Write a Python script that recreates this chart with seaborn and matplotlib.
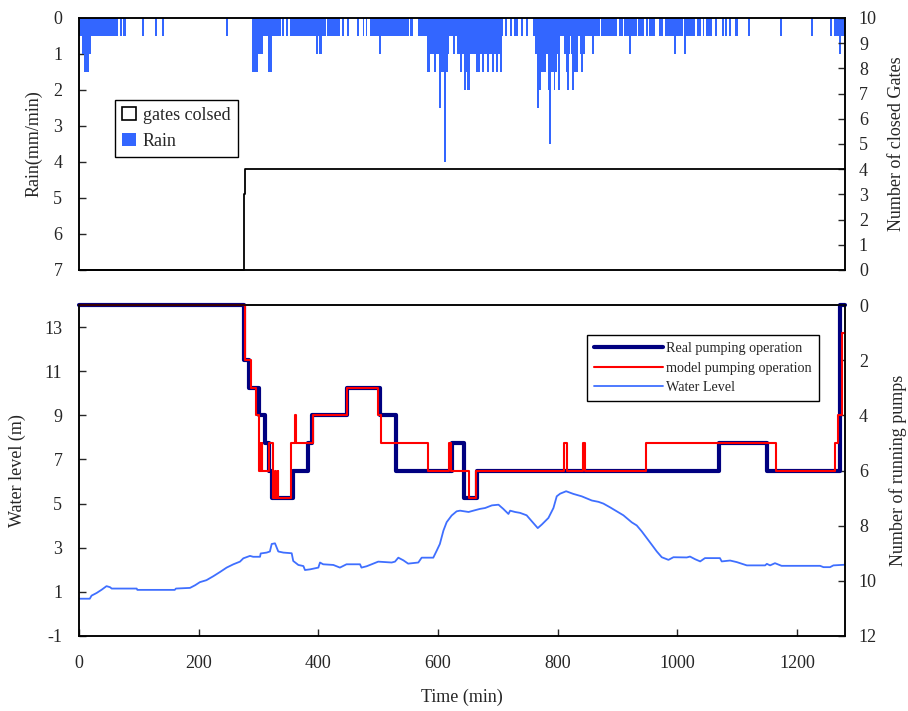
import numpy as np
import pandas as pd
import matplotlib
matplotlib.use("Agg")
import matplotlib.pyplot as plt
from matplotlib.patches import Patch
from matplotlib.lines import Line2D
import seaborn as sns

# ---------------- data ----------------
# rain events: start (min), end (min), intensity (mm/min)
rain_start = [0, 68.5, 74, 105, 127, 138, 245.5, 288.5, 340, 346, 352.5, 414, 439, 447, 465, 474, 479, 486, 553, 567,
              712, 720, 727, 739, 747, 759, 872, 902, 910, 934, 947, 953, 969, 979, 1011, 1033, 1042, 1048, 1063,
              1075, 1080, 1086, 1097, 1118, 1172, 1223, 1255, 1262,
              4.5, 288.5, 316, 396, 401.5, 501, 582, 624.5, 632, 762, 811, 822, 837, 858, 919, 994, 1011, 1270,
              8.5, 288.5, 316, 582, 593, 601.5, 636.5, 643, 663, 673, 681, 690, 696, 703, 766, 784, 813, 824, 839,
              643, 649, 766, 784, 793, 801, 816, 824,
              601.5, 766,
              786,
              610]
rain_end = [65, 71.5, 78, 108, 130, 141.5, 248.5, 337, 343, 350, 413, 436, 442, 451, 468, 477, 482, 551.5, 558, 708,
            715, 724, 734, 742, 750, 870, 899, 909, 932, 944, 950, 963, 976, 1009, 1030, 1039, 1045, 1058, 1066,
            1078, 1083, 1089, 1101, 1121, 1175, 1227, 1258, 1280,
            20, 307, 322, 399.5, 405.5, 505, 618, 628, 707, 804, 820, 834, 846, 861, 922, 997, 1015, 1273,
            16.5, 298.5, 322, 586.5, 596.5, 616.5, 640.5, 653, 670, 677, 685, 694, 700, 707, 781, 799, 818, 834, 842,
            647, 653, 772, 789, 796, 804, 819, 827,
            604.5, 769,
            789,
            613]
rain_mm = [0.5] * 48 + [1.0] * 18 + [1.5] * 19 + [2.0] * 8 + [2.5] * 2 + [3.5] + [4.0]

# number of closed gates
gate_time = [0, 275, 278, 1280]
gate_count = [0, 3, 4, 4]

# real pumping operation (number of running pumps)
real_time = [0, 275, 284, 301, 310, 318, 322, 358, 382, 390, 447, 503, 529, 624, 644, 665, 1069, 1150, 1271, 1280]
real_pumps = [0, 2, 3, 4, 5, 6, 7, 6, 5, 4, 3, 4, 6, 5, 7, 6, 5, 6, 0, 0]

# model pumping operation
model_time = [0, 277, 287, 296, 300, 302, 303, 305, 306, 318, 325, 328, 329, 332, 333, 355, 361, 362, 391, 447,
              499, 504, 584, 619, 622, 652, 664, 811, 816, 843, 845, 948, 1165, 1264, 1269, 1275, 1280]
model_pumps = [0, 2, 3, 4, 6, 5, 6, 5, 6, 5, 7, 6, 7, 6, 7, 5, 4, 5, 4, 3,
               4, 5, 6, 5, 6, 7, 6, 5, 6, 5, 6, 5, 6, 5, 4, 1, 1]

# water level (m)
wl_time = [0, 18, 21, 29.5, 38, 46, 52, 54.6, 96.4, 97.5,
           160, 162, 185.5, 194, 202, 213, 224.5, 235.6, 246.7, 258,
           269, 274.6, 285.7, 291, 302.5, 303.6, 313.6, 319, 322, 327.5,
           333, 341.5, 355.4, 358, 366.5, 375, 377.6, 386, 400, 402.7,
           408, 425, 436, 447, 469.6, 472, 480.6, 489, 500, 522.5,
           528, 533.6, 542, 550, 567, 572.6, 592, 597.6, 603, 609,
           614.4, 622.7, 631, 636.8, 651, 659, 670, 678.6, 690, 701,
           709, 717.6, 720.4, 728.7, 737, 748, 756.6, 766.6, 773.3, 784.4,
           792.8, 798.3, 804, 814, 826, 840, 857, 868, 876.3, 887.5,
           898.6, 909.7, 923.7, 932, 940.4, 948.7, 957, 965.5, 973.8, 985,
           993.3, 1015.6, 1021, 1029.5, 1038, 1046, 1071, 1074, 1088, 1099,
           1116, 1146.5, 1149.4, 1154.8, 1163, 1174, 1238.4, 1244, 1255, 1260.6,
           1280]
wl_level = [0.69, 0.69, 0.83, 0.95, 1.10, 1.26, 1.21, 1.15, 1.15, 1.09,
            1.09, 1.15, 1.18, 1.30, 1.44, 1.53, 1.71, 1.90, 2.10, 2.25,
            2.37, 2.52, 2.63, 2.59, 2.59, 2.74, 2.78, 2.83, 3.17, 3.20,
            2.83, 2.78, 2.75, 2.40, 2.22, 2.17, 1.99, 2.02, 2.10, 2.33,
            2.25, 2.22, 2.10, 2.25, 2.25, 2.10, 2.16, 2.25, 2.37, 2.33,
            2.37, 2.55, 2.43, 2.28, 2.33, 2.55, 2.55, 2.86, 3.17, 3.78,
            4.16, 4.46, 4.65, 4.68, 4.62, 4.68, 4.76, 4.80, 4.92, 4.95,
            4.76, 4.53, 4.68, 4.62, 4.58, 4.47, 4.20, 3.89, 4.05, 4.35,
            4.80, 5.33, 5.45, 5.56, 5.44, 5.33, 5.14, 5.08, 5.00, 4.83,
            4.65, 4.47, 4.15, 4.01, 3.74, 3.44, 3.14, 2.83, 2.57, 2.45,
            2.57, 2.56, 2.60, 2.48, 2.38, 2.53, 2.53, 2.38, 2.42, 2.35,
            2.20, 2.20, 2.27, 2.20, 2.30, 2.18, 2.18, 2.12, 2.12, 2.20,
            2.23]

# ---------------- style ----------------
sns.set_style("ticks")
plt.rcParams['font.family'] = ['Liberation Serif', 'DejaVu Serif']
plt.rcParams['axes.unicode_minus'] = False
plt.rcParams['xtick.direction'] = 'in'
plt.rcParams['ytick.direction'] = 'in'
plt.rcParams['axes.linewidth'] = 1.1
plt.rcParams['axes.edgecolor'] = 'black'

RAIN_C = '#3366FF'
WL_C = '#3F6FFF'
REAL_C = '#000080'
MODEL_C = '#FF0000'
FS = 13

fig = plt.figure(figsize=(9.08, 7.11), dpi=100)
W, H = 908, 711
ax1 = fig.add_axes([79 / W, 1 - 270 / H, 766 / W, 252 / H])
ax2 = fig.add_axes([79 / W, 1 - 636 / H, 766 / W, 331 / H])

# ---------------- top panel ----------------
rain_df = pd.DataFrame({'start': rain_start, 'end': rain_end, 'mm': rain_mm})
ax1.bar(rain_df['start'], rain_df['mm'], width=rain_df['end'] - rain_df['start'], align='edge',
        color=RAIN_C, linewidth=0)
ax1.set_xlim(0, 1280)
ax1.set_ylim(7, 0)
ax1.set_yticks(range(0, 8))
ax1.tick_params(axis='x', bottom=False, labelbottom=False)
ax1.tick_params(axis='y', labelsize=FS, length=5, width=1, pad=12)
ax1.set_ylabel('Rain(mm/min)', fontsize=FS, labelpad=8)

ax1r = ax1.twinx()
gate_df = pd.DataFrame({'t': gate_time, 'n': gate_count})
sns.lineplot(data=gate_df, x='t', y='n', ax=ax1r, color='black', linewidth=1.3,
             drawstyle='steps-post', estimator=None, sort=False, clip_on=False)
ax1r.set_ylim(0, 10)
ax1r.set_yticks(range(0, 11))
ax1r.set_xlim(0, 1280)
ax1r.tick_params(axis='y', labelsize=FS, length=5, width=1, pad=10)
ax1r.set_ylabel('Number of closed Gates', fontsize=FS, labelpad=8)
ax1r.set_xlabel('')

leg1 = ax1r.legend(handles=[Patch(facecolor='white', edgecolor='black', linewidth=1.2, label='gates colsed'),
                            Patch(facecolor=RAIN_C, edgecolor='none', label='Rain')],
                   loc='upper left', bbox_to_anchor=(0.047, 0.675), fontsize=FS,
                   frameon=True, fancybox=False, edgecolor='black', framealpha=1,
                   handlelength=0.75, handleheight=0.75, handletextpad=0.4,
                   borderpad=0.4, labelspacing=0.5, borderaxespad=0)
leg1.get_frame().set_linewidth(1.0)

# ---------------- bottom panel ----------------
wl_df = pd.DataFrame({'t': wl_time, 'level': wl_level})
sns.lineplot(data=wl_df, x='t', y='level', ax=ax2, color=WL_C, linewidth=1.3,
             estimator=None, sort=False)
ax2.set_xlim(0, 1280)
ax2.set_ylim(-1, 14)
ax2.set_yticks(range(-1, 14, 2))
ax2.set_xticks(range(0, 1201, 200))
ax2.tick_params(axis='both', labelsize=FS, length=5, width=1)
ax2.tick_params(axis='x', pad=14)
ax2.tick_params(axis='y', pad=12)
ax2.set_xlabel('Time (min)', fontsize=FS, labelpad=12)
ax2.set_ylabel('Water level (m)', fontsize=FS, labelpad=13)

ax2r = ax2.twinx()
real_df = pd.DataFrame({'t': real_time, 'pumps': real_pumps})
model_df = pd.DataFrame({'t': model_time, 'pumps': model_pumps})
sns.lineplot(data=real_df, x='t', y='pumps', ax=ax2r, color=REAL_C, linewidth=3.0,
             drawstyle='steps-post', estimator=None, sort=False, clip_on=False)
sns.lineplot(data=model_df, x='t', y='pumps', ax=ax2r, color=MODEL_C, linewidth=1.5,
             drawstyle='steps-post', estimator=None, sort=False, clip_on=False)
ax2r.set_xlim(0, 1280)
ax2r.set_ylim(12, 0)
ax2r.set_yticks(range(0, 13, 2))
ax2r.tick_params(axis='y', labelsize=FS, length=5, width=1, pad=10)
ax2r.set_ylabel('Number of running pumps', fontsize=FS, labelpad=9)
ax2r.set_xlabel('')

leg2 = ax2r.legend(handles=[Line2D([], [], color=REAL_C, linewidth=3.0, label='Real pumping operation'),
                            Line2D([], [], color=MODEL_C, linewidth=1.5, label='model pumping operation'),
                            Line2D([], [], color=WL_C, linewidth=1.3, label='Water Level')],
                   loc='upper left', bbox_to_anchor=(0.663, 0.909), fontsize=10.2,
                   frameon=True, fancybox=False, edgecolor='black', framealpha=1,
                   handlelength=4.9, handletextpad=0.2, borderpad=0.5, labelspacing=0.45,
                   borderaxespad=0)
leg2.get_frame().set_linewidth(1.0)

for a in (ax1, ax1r, ax2, ax2r):
    for s in a.spines.values():
        s.set_visible(True)
        s.set_color('black')

fig.savefig('out.png', dpi=100)
